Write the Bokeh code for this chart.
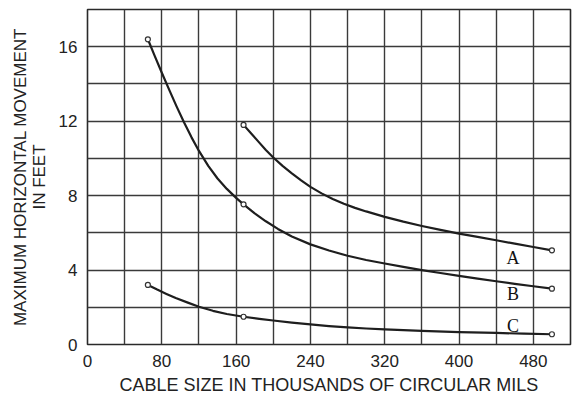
from bokeh.plotting import figure
from bokeh.models import FixedTicker, Range1d, ColumnDataSource
from bokeh.core.properties import value
from bokeh.embed import file_html
from bokeh.resources import INLINE

# ---- data ----
a_x = [168, 176, 184, 192, 200, 210, 220, 230, 240, 252, 264, 276, 288, 300, 320,
       340, 360, 380, 400, 420, 440, 460, 480, 500]
a_y = [11.8, 11.35, 10.9, 10.45, 10.05, 9.6, 9.2, 8.82, 8.47, 8.12, 7.82, 7.56, 7.34,
       7.15, 6.86, 6.6, 6.37, 6.16, 5.96, 5.78, 5.6, 5.42, 5.24, 5.06]

b_x = [65, 72, 80, 88, 96, 104, 112, 120, 130, 140, 150, 160, 168, 180, 192, 205,
       220, 240, 260, 280, 300, 320, 340, 360, 380, 400, 420, 440, 460, 480, 500]
b_y = [16.4, 15.55, 14.6, 13.68, 12.78, 11.93, 11.13, 10.4, 9.6, 8.92, 8.36, 7.88,
       7.53, 7.05, 6.62, 6.21, 5.8, 5.38, 5.05, 4.77, 4.54, 4.35, 4.17, 4.0, 3.84,
       3.69, 3.54, 3.4, 3.26, 3.13, 3.0]

c_x = [65, 75, 85, 95, 108, 120, 135, 150, 168, 185, 200, 220, 240, 260, 280, 300,
       320, 360, 400, 440, 470, 500]
c_y = [3.2, 2.95, 2.72, 2.5, 2.25, 2.03, 1.81, 1.64, 1.49, 1.38, 1.29, 1.18, 1.08,
       0.99, 0.92, 0.86, 0.81, 0.73, 0.67, 0.62, 0.585, 0.55]

# marked points on the curves
mark_x = [168, 500, 65, 168, 500, 65, 168, 500]
mark_y = [11.8, 5.06, 16.4, 7.53, 3.0, 3.2, 1.49, 0.55]

curve_names = ["A", "B", "C"]
name_x = [458, 458, 458]
name_y = [4.65, 2.7, 1.0]

x_labeled_ticks = [0, 80, 160, 240, 320, 400, 480]
x_grid_ticks = [40, 120, 200, 280, 360, 440, 520]
y_labeled_ticks = [0, 4, 8, 12, 16]
y_grid_ticks = [2, 6, 10, 14, 18]

x_title = "CABLE SIZE IN THOUSANDS OF CIRCULAR MILS"
y_title = "MAXIMUM HORIZONTAL MOVEMENT\nIN FEET"

# ---- figure ----
p = figure(width=573, height=397, output_backend="svg", toolbar_location=None,
           x_range=Range1d(0, 520), y_range=Range1d(0, 18),
           min_border_left=87, min_border_right=3, min_border_top=9, min_border_bottom=52)
p.background_fill_color = "white"
p.border_fill_color = "white"
p.outline_line_color = "#2a2a2a"
p.outline_line_width = 1.6

grid_col = "#3a3a3a"
p.xaxis.ticker = FixedTicker(ticks=x_labeled_ticks, minor_ticks=x_grid_ticks)
p.yaxis.ticker = FixedTicker(ticks=y_labeled_ticks, minor_ticks=y_grid_ticks)
for g in (p.xgrid, p.ygrid):
    g.grid_line_color = grid_col
    g.grid_line_width = 1.4
    g.minor_grid_line_color = grid_col
    g.minor_grid_line_width = 1.4

for ax in (p.xaxis, p.yaxis):
    ax.axis_line_color = None
    ax.major_tick_line_color = None
    ax.minor_tick_line_color = None
    ax.major_tick_out = 0
    ax.major_tick_in = 0
    ax.minor_tick_out = 0
    ax.minor_tick_in = 0
    ax.major_label_text_font = "Liberation Sans"
    ax.major_label_text_font_size = "17px"
    ax.major_label_text_color = "#222222"
    ax.axis_label_text_font = "Liberation Sans"
    ax.axis_label_text_font_style = "normal"
    ax.axis_label_text_color = "#222222"

p.xaxis.axis_label = x_title
p.xaxis.axis_label_text_font_size = "18px"
p.xaxis.major_label_standoff = 10
p.xaxis.axis_label_standoff = 5

p.yaxis.axis_label = y_title
p.yaxis.axis_label_text_font_size = "17px"
p.yaxis.axis_label_text_line_height = 1.0
p.yaxis.major_label_standoff = 10
p.yaxis.axis_label_standoff = 7

line_col = "#1e1e1e"
for xs, ys in ((a_x, a_y), (b_x, b_y), (c_x, c_y)):
    p.line(xs, ys, line_color=line_col, line_width=2.2, line_join="round")
p.scatter(mark_x, mark_y, marker="circle", size=5, fill_color="white",
          line_color="#333333", line_width=1.2)

src = ColumnDataSource(dict(x=name_x, y=name_y, t=curve_names))
p.text(x="x", y="y", text="t", source=src, text_font=value("Liberation Serif"),
       text_font_size="18px", text_align="center", text_baseline="middle",
       text_color="#111111")

open("out.html", "w").write(file_html(p, INLINE))
